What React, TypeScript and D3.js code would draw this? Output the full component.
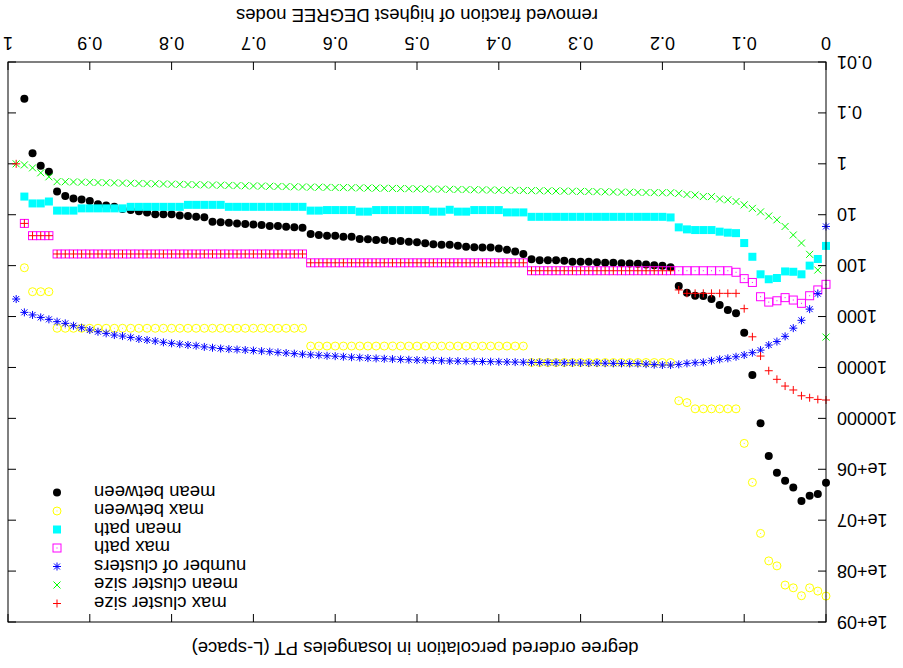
import * as d3 from 'd3';

const width = 903;
const height = 668;
const [mt, mr, mb, ml] = [46, 8, 62, 77];

// removed fraction of highest degree nodes
const removed = [
    0, 0.01, 0.02, 0.03, 0.04, 0.05, 0.06, 0.07, 0.08, 0.09,
    0.1, 0.11, 0.12, 0.13, 0.14, 0.15, 0.16, 0.17, 0.18, 0.19,
    0.2, 0.21, 0.22, 0.23, 0.24, 0.25, 0.26, 0.27, 0.28, 0.29,
    0.3, 0.31, 0.32, 0.33, 0.34, 0.35, 0.36, 0.37, 0.38, 0.39,
    0.4, 0.41, 0.42, 0.43, 0.44, 0.45, 0.46, 0.47, 0.48, 0.49,
    0.5, 0.51, 0.52, 0.53, 0.54, 0.55, 0.56, 0.57, 0.58, 0.59,
    0.6, 0.61, 0.62, 0.63, 0.64, 0.65, 0.66, 0.67, 0.68, 0.69,
    0.7, 0.71, 0.72, 0.73, 0.74, 0.75, 0.76, 0.77, 0.78, 0.79,
    0.8, 0.81, 0.82, 0.83, 0.84, 0.85, 0.86, 0.87, 0.88, 0.89,
    0.9, 0.91, 0.92, 0.93, 0.94, 0.95, 0.96, 0.97, 0.98, 0.99
];

const meanBetween = [
    1.84e6, 3.07e6, 3.3e6, 4.2e6, 2.27e6, 1.68e6, 1.17e6, 5.5e5, 1.25e5, 1.41e4,
    2080, 865, 745, 594, 453, 395, 390, 340, 250, 107,
    100, 98, 95, 92, 91, 90, 88, 88, 86, 84,
    84, 84, 80, 78, 78, 78, 75, 59, 53, 49,
    46, 44, 44, 43.7, 42.4, 40.5, 39, 39, 38, 36.5,
    34.9, 33.9, 32.9, 32.9, 31.4, 31.4, 30.4, 30, 27, 27,
    25.8, 25.8, 25, 24, 18, 17.7, 17.2, 16.7, 16.7, 16,
    15.5, 15.2, 14.8, 14.4, 14.1, 13.7, 11.2, 11, 10.6, 10.4,
    9.8, 9.8, 9.8, 9, 8.5, 8.1, 7.7, 7, 6.6, 6.2,
    5.4, 5, 4.8, 4.3, 3.5, 1.43, 1.09, 0.62, 0.053, null
];

const maxBetween = [
    3.1e8, 2.47e8, 2.13e8, 3.05e8, 2.13e8, 1.88e8, 7.9e7, 6.3e7, 1.82e7, 1.81e6,
    3.1e5, 6.5e4, 6.5e4, 6.5e4, 6.5e4, 6.5e4, 6.5e4, 4.9e4, 4.5e4, 8000,
    8000, 8000, 8000, 8000, 8000, 8000, 8000, 8000, 8000, 8000,
    8000, 8000, 8000, 8000, 8000, 8000, 8000, 3800, 3800, 3800,
    3800, 3800, 3800, 3800, 3800, 3800, 3800, 3800, 3800, 3800,
    3800, 3800, 3800, 3800, 3800, 3800, 3800, 3800, 3800, 3800,
    3800, 3800, 3800, 3800, 1700, 1700, 1700, 1700, 1700, 1700,
    1700, 1700, 1700, 1700, 1700, 1700, 1700, 1700, 1700, 1700,
    1700, 1700, 1700, 1700, 1700, 1700, 1700, 1700, 1700, 1700,
    1700, 1700, 1700, 1700, 1700, 325, 325, 325, 110, null
];

const meanPath = [
    41, 74, 100, 148, 132, 130, 175, 185, 148, 67,
    36, 23, 22.5, 21.5, 20, 20, 20, 19.4, 17.7, 11.3,
    11, 11, 11, 11, 11, 11, 11, 11, 11, 11,
    11, 11, 11, 11, 11, 11, 11, 9, 9, 9,
    8.1, 8.1, 8.1, 8.1, 8.7, 8.7, 8, 8.7, 8.7, 8.1,
    8.1, 8.1, 8.1, 8.1, 8.1, 8.1, 8.7, 8.7, 8.1, 8.1,
    8.1, 8.1, 8.3, 8.3, 7, 7, 7, 7, 7, 7,
    7, 7, 7, 7, 6.4, 6.4, 6.4, 6.4, 6.4, 7,
    7, 7, 7, 7, 7, 7, 7.5, 7.5, 7.5, 7.5,
    7.5, 7.5, 8.3, 8.3, 8.3, 5.5, 6, 6, 4.4, null
];

const maxPath = [
    233, 300, 390, 550, 474, 425, 490, 520, 408, 214,
    180, 135, 126, 126, 126, 126, 126, 126, 126, 126,
    126, 126, 126, 126, 126, 126, 126, 126, 126, 126,
    126, 126, 126, 126, 126, 126, 126, 88, 88, 88,
    88, 88, 88, 88, 88, 88, 88, 88, 88, 88,
    88, 88, 88, 88, 88, 88, 88, 88, 88, 88,
    88, 88, 88, 88, 59, 59, 59, 59, 59, 59,
    59, 59, 59, 59, 59, 59, 59, 59, 59, 59,
    59, 59, 59, 59, 59, 59, 59, 59, 59, 59,
    59, 59, 59, 59, 59, 25.8, 25.8, 25.8, 14.8, null
];

const numClusters = [
    17, 355, 715, 1185, 1690, 2450, 3100, 3630, 4570, 5130,
    5700, 6170, 6620, 6920, 7380, 7940, 8090, 8320, 8700, 8970,
    8950, 8800, 8600, 8400, 8350, 8300, 8300, 8250, 8200, 8200,
    8150, 8100, 8100, 8050, 8000, 8000, 7950, 7900, 7850, 7800,
    7750, 7700, 7650, 7600, 7550, 7500, 7450, 7400, 7300, 7200,
    7150, 7050, 6950, 6850, 6750, 6650, 6550, 6400, 6300, 6150,
    6000, 5900, 5750, 5650, 5500, 5350, 5200, 5050, 4900, 4780,
    4650, 4550, 4450, 4360, 4250, 4100, 3950, 3740, 3620, 3490,
    3360, 3210, 3030, 2890, 2760, 2570, 2420, 2310, 2140, 1990,
    1840, 1660, 1515, 1360, 1260, 1135, 1040, 930, 828, 453
];

const meanClusterSize = [
    2530, 122, 60, 36, 25, 17, 12.6, 10.6, 8.8, 7.5,
    6.4, 5.5, 5.1, 4.9, 4.4, 4.4, 4.1, 4, 3.8, 3.7,
    3.7, 3.68, 3.66, 3.64, 3.62, 3.6, 3.57, 3.55, 3.52, 3.5,
    3.48, 3.46, 3.44, 3.42, 3.4, 3.38, 3.36, 3.34, 3.32, 3.3,
    3.29, 3.27, 3.25, 3.23, 3.21, 3.19, 3.17, 3.15, 3.13, 3.12,
    3.1, 3.08, 3.06, 3.04, 3.02, 3, 2.99, 2.97, 2.95, 2.93,
    2.92, 2.9, 2.88, 2.87, 2.85, 2.83, 2.8, 2.78, 2.76, 2.74,
    2.72, 2.7, 2.68, 2.65, 2.63, 2.61, 2.59, 2.57, 2.55, 2.53,
    2.51, 2.49, 2.47, 2.45, 2.43, 2.41, 2.39, 2.37, 2.35, 2.33,
    2.31, 2.29, 2.27, 2.25, 2.24, 1.8, 1.5, 1.2, 1.05, 1
];

const maxClusterSize = [
    43600, 42400, 39300, 36000, 27700, 23200, 17100, 11600, 5970, 2500,
    700, 350, 350, 350, 350, 350, 350, 350, 300, 126,
    126, 126, 126, 126, 126, 126, 126, 126, 126, 126,
    126, 126, 126, 126, 126, 126, 126, 88, 88, 88,
    88, 88, 88, 88, 88, 88, 88, 88, 88, 88,
    88, 88, 88, 88, 88, 88, 88, 88, 88, 88,
    88, 88, 88, 88, 59, 59, 59, 59, 59, 59,
    59, 59, 59, 59, 59, 59, 59, 59, 59, 59,
    59, 59, 59, 59, 59, 59, 59, 59, 59, 59,
    59, 59, 59, 59, 59, 25.8, 25.8, 25.8, 14.8, 1
];

const xTicks = [0, 0.1, 0.2, 0.3, 0.4, 0.5, 0.6, 0.7, 0.8, 0.9, 1];
const yTicks = [0.01, 0.1, 1, 10, 100, 1000, 1e4, 1e5, 1e6, 1e7, 1e8, 1e9];
const yTickLabels = ['0.01', '0.1', '1', '10', '100', '1000', '10000', '100000', '1e+06', '1e+07', '1e+08', '1e+09'];

type Shape = 'dot' | 'circle' | 'fsquare' | 'square' | 'star' | 'cross' | 'plus';
type Series = { name: string; values: (number | null)[]; color: string; shape: Shape };

const series: Series[] = [
    { name: 'mean between', values: meanBetween, color: '#000000', shape: 'dot' },
    { name: 'max between', values: maxBetween, color: '#ffff00', shape: 'circle' },
    { name: 'mean path', values: meanPath, color: '#00ffff', shape: 'fsquare' },
    { name: 'max path', values: maxPath, color: '#ff00ff', shape: 'square' },
    { name: 'number of clusters', values: numClusters, color: '#0000ff', shape: 'star' },
    { name: 'mean cluster size', values: meanClusterSize, color: '#00ff00', shape: 'cross' },
    { name: 'max cluster size', values: maxClusterSize, color: '#ff0000', shape: 'plus' }
];

const font = '"Liberation Sans", Arial, Helvetica, sans-serif';

function Marker({ shape, x, y, color }: { shape: Shape; x: number; y: number; color: string }) {
    switch (shape) {
        case 'dot':
            return <circle cx={x} cy={y} r={4} fill={color} />;
        case 'circle':
            return (
                <g>
                    <circle cx={x} cy={y} r={4} fill="none" stroke={color} strokeWidth={1} />
                    <rect x={x - 0.5} y={y - 0.5} width={1} height={1} fill={color} />
                </g>
            );
        case 'fsquare':
            return <rect x={x - 4} y={y - 4} width={8} height={8} fill={color} />;
        case 'square':
            return (
                <g>
                    <rect x={x - 4} y={y - 4} width={8} height={8} fill="none" stroke={color} strokeWidth={1} />
                    <rect x={x - 0.5} y={y - 0.5} width={1} height={1} fill={color} />
                </g>
            );
        case 'star':
            return (
                <path
                    d={`M${x - 4},${y}H${x + 4}M${x},${y - 4}V${y + 4}M${x - 3},${y - 3}L${x + 3},${y + 3}M${x - 3},${y + 3}L${x + 3},${y - 3}`}
                    stroke={color}
                    strokeWidth={1}
                />
            );
        case 'cross':
            return (
                <path
                    d={`M${x - 3.5},${y - 3.5}L${x + 3.5},${y + 3.5}M${x - 3.5},${y + 3.5}L${x + 3.5},${y - 3.5}`}
                    stroke={color}
                    strokeWidth={1}
                />
            );
        default:
            return <path d={`M${x - 4},${y}H${x + 4}M${x},${y - 4}V${y + 4}`} stroke={color} strokeWidth={1} />;
    }
}

export default function App() {
    const x = d3.scaleLinear().domain([0, 1]).range([ml, width - mr]);
    const y = d3.scaleLog().domain([0.01, 1e9]).range([height - mb, mt]);
    const [x0, x1] = x.range();
    const [y0, y1] = y.range();

    // legend (gnuplot key, top right)
    const keyX = 846;
    const keyTextX = 809;
    const keyTop = 64.5;
    const keyStep = 18.5;
    const legend = [...series].reverse();

    return (
        <svg
            width={width}
            height={height}
            style={{ position: 'absolute', left: 0, top: 0, background: '#fff' }}
            fontFamily={font}
            fontSize={18.5}
        >
            {/* the whole figure is shown upside down */}
            <g transform={`rotate(180 ${width / 2} ${height / 2})`}>
                <rect x={0} y={0} width={width} height={height} fill="#fff" />

                {/* ticks */}
                {xTicks.map((t) => (
                    <g key={`xt${t}`}>
                        <line x1={x(t)} x2={x(t)} y1={y0} y2={y0 - 8} stroke="#000" />
                        <line x1={x(t)} x2={x(t)} y1={y1} y2={y1 + 8} stroke="#000" />
                        <text x={x(t)} y={631} textAnchor="middle" fontSize={18}>
                            {String(t)}
                        </text>
                    </g>
                ))}
                {yTicks.map((t, i) => (
                    <g key={`yt${t}`}>
                        <line x1={x0} x2={x0 + 8} y1={y(t)} y2={y(t)} stroke="#000" />
                        <line x1={x1} x2={x1 - 8} y1={y(t)} y2={y(t)} stroke="#000" />
                        <text x={66} y={y(t)} dy="0.36em" textAnchor="end" fontSize={18}>
                            {yTickLabels[i]}
                        </text>
                    </g>
                ))}

                {/* points */}
                {series.map((s) => (
                    <g key={s.name}>
                        {s.values.map((v, i) =>
                            v == null ? null : (
                                <Marker key={i} shape={s.shape} x={x(removed[i])} y={y(v)} color={s.color} />
                            )
                        )}
                    </g>
                ))}

                <rect x={x0} y={y1} width={x1 - x0} height={y0 - y1} fill="none" stroke="#000" strokeWidth={1} />

                {/* key */}
                {legend.map((s, i) => (
                    <g key={`k${s.name}`}>
                        <text x={keyTextX} y={keyTop + i * keyStep} dy="0.36em" textAnchor="end">
                            {s.name}
                        </text>
                        <Marker shape={s.shape} x={keyX} y={keyTop + i * keyStep} color={s.color} />
                    </g>
                ))}

                <text x={488} y={26} textAnchor="middle">
                    degree ordered percolation in losangeles PT (L-space)
                </text>
                <text x={486} y={659} textAnchor="middle">
                    removed fraction of highest DEGREE nodes
                </text>
            </g>
        </svg>
    );
}
